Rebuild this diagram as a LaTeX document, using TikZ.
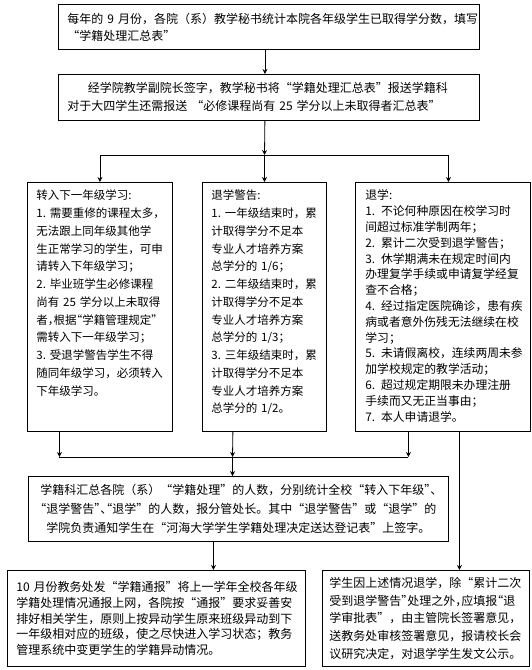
\documentclass[tikz,border=0pt]{standalone}
\usepackage{fontspec}
\setmainfont{Noto Sans CJK SC}
\usetikzlibrary{arrows.meta, positioning, calc}
\newcommand\halfl[1]{\makebox[0.5em][l]{#1}}
\newcommand\halfr[1]{\makebox[0.5em][r]{#1}}
\tikzset{
  textbox/.style = {
    rectangle, draw=black, line width=0.8pt,
    inner xsep=9pt, inner ysep=0pt, align=left,
    font=\fontsize{12pt}{17.8pt}\selectfont
  },
  listbox/.style = {
    textbox, text height=17.5pt, text depth=231.5pt,
    font=\fontsize{11.5pt}{17.75pt}\selectfont
  },
  flowline/.style = {line width=0.8pt},
  flowarrow/.style = {-{Stealth[length=5pt, width=5pt]}, line width=0.8pt}
}

\begin{document}
\begin{tikzpicture}[x=1pt, y=-1pt]
  \useasboundingbox (0,0) rectangle (531,670);
  % Nodes
  \node[textbox, anchor=north west, text width=403pt, minimum height=45pt,
        font=\fontsize{12pt}{17pt}\selectfont] (collect) at (58,4)
    {每年的 9 月份，各院（系）教学秘书统计本院各年级学生已取得学分数，填写\\
     “学籍处理汇总表”};
  \node[textbox, anchor=north west, text width=403pt, minimum height=46pt,
        font=\fontsize{12pt}{18pt}\selectfont] (report) at (58,74)
    {\hspace*{1.7em}经学院教学副院长签字，教学秘书将“学籍处理汇总表”报送学籍科\\
     对于大四学生还需报送 “必修课程尚有 25 学分以上未取得者汇总表”};

  \node[listbox, anchor=north west, text width=127pt] (transfer) at (27,182)
    {转入下一年级学习:\\
     1.~需要重修的课程太多，\\
     无法跟上同年级其他学\\
     生正常学习的学生，可申\\
     请转入下年级学习；\\
     2.~毕业班学生必修课程\\
     尚有~25~学分以上未取得\\
     者\halfl{，}根据\halfr{“}学籍管理规定\halfl{”}\\
     需转入下一年级学习；\\
     3.~受退学警告学生不得\\
     随同年级学习，必须转入\\
     下年级学习。};
  \node[listbox, anchor=north west, text width=106pt] (warning) at (202,182)
    {退学警告:\\
     1.~一年级结束时，累\\
     计取得学分不足本\\
     专业人才培养方案\\
     总学分的~1/6；\\
     2.~二年级结束时，累\\
     计取得学分不足本\\
     专业人才培养方案\\
     总学分的~1/3；\\
     3.~三年级结束时，累\\
     计取得学分不足本\\
     专业人才培养方案\\
     总学分的~1/2。};
  \node[listbox, anchor=north west, text width=155pt, inner xsep=10pt,
        font=\fontsize{11.8pt}{15.8pt}\selectfont] (dropout) at (355,182)
    {退学:\\
     1.\enspace 不论何种原因在校学习时\\
     间超过标准学制两年；\\
     2.\enspace 累计二次受到退学警告；\\
     3.\enspace 休学期满未在规定时间内\\
     办理复学手续或申请复学经复\\
     查不合格；\\
     4.\enspace 经过指定医院确诊，患有疾\\
     病或者意外伤残无法继续在校\\
     学习；\\
     5.\enspace 未请假离校，连续两周未参\\
     加学校规定的教学活动；\\
     6.\enspace 超过规定期限未办理注册\\
     手续而又无正当事由；\\
     7.\enspace 本人申请退学。};

  \node[textbox, anchor=north west, text width=402pt, minimum height=65pt, align=center,
        font=\fontsize{12pt}{19pt}\selectfont] (summary) at (28,476)
    {学籍科汇总各院（系）“学籍处理”的人数，分别统计全校“转入下年级\halfl{”}\halfl{、}\\
     \halfr{“}退学警告\halfl{”}\halfl{、}\halfr{“}退学”的人数，报分管处长。其中“退学警告”或“退学”的\\
     学院负责通知学生在“河海大学学生学籍处理决定送达登记表”上签字。};

  \node[textbox, anchor=north west, text width=280pt, minimum height=96pt,
        font=\fontsize{12pt}{15.8pt}\selectfont] (notice) at (7,570)
    {10 月份教务处发“学籍通报”将上一学年全校各年级\\
     学籍处理情况通报上网，各院按“通报”要求妥善安\\
     排好相关学生，原则上按异动学生原来班级异动到下\\
     一年级相对应的班级，使之尽快进入学习状态；教务\\
     管理系统中变更学生的学籍异动情况。};
  \node[textbox, anchor=north west, text width=193pt, minimum height=96pt, inner xsep=7pt]
        (approve) at (322,570)
    {学生因上述情况退学，除“累计二次\\
     受到退学警告\halfl{”}处理之外\halfl{，}应填报\halfr{“}退\\
     学审批表”，由主管院长签署意见，\\
     送教务处审核签署意见，报请校长会\\
     议研究决定，对退学学生发文公示。};

  % Connections
  \coordinate (split) at (264.5,155);
  \coordinate (merge) at (232.5,457);
  \draw[flowarrow] ([xshift=-4pt]collect.south) -- ([xshift=-4pt]collect.south |- report.north);
  \draw[flowarrow] ([xshift=-4pt]report.south) -- (split);
  \draw[flowline] (transfer.north |- split) -- ([xshift=5.5pt]dropout.north |- split);
  \draw[flowarrow] (transfer.north |- split) -- (transfer.north);
  \draw[flowarrow] (split) -- (split |- warning.north);
  \draw[flowarrow] ([xshift=5.5pt]dropout.north |- split) -- ([xshift=5.5pt]dropout.north);

  \draw[flowarrow] ([xshift=-40.5pt]transfer.south) -- ([xshift=-40.5pt]transfer.south |- merge);
  \draw[flowarrow] ([xshift=-31.5pt]warning.south) -- (merge);
  \draw[flowarrow] ([xshift=-34.5pt]dropout.south) -- ([xshift=-34.5pt]dropout.south |- merge);
  \draw[flowline] ([xshift=-40.5pt]transfer.south |- merge) -- ([xshift=-34.5pt]dropout.south |- merge);
  \draw[flowarrow] (merge) -- (merge |- summary.north);
  \draw[flowarrow] ([xshift=-25pt]summary.south) -- ([xshift=-25pt]summary.south |- notice.north);
  \draw[flowarrow] ([xshift=16.5pt]dropout.south) -- ([xshift=16.5pt]dropout.south |- approve.north);
\end{tikzpicture}
\end{document}
